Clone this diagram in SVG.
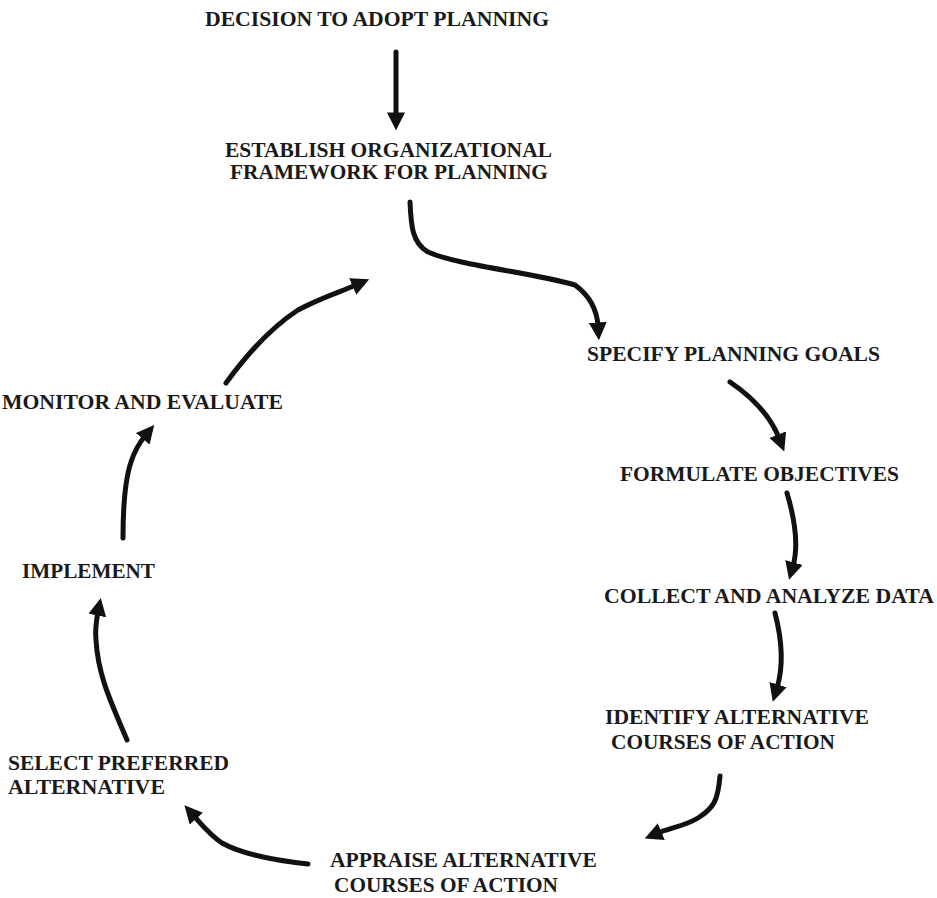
<svg xmlns="http://www.w3.org/2000/svg" width="937" height="898" viewBox="0 0 937 898">
<defs>
<style>
text{font-family:"Liberation Serif","Times New Roman",serif;font-weight:bold;font-size:21.5px;fill:#1a1a1a}
.c{fill:none;stroke:#111;stroke-width:5;stroke-linecap:round;stroke-linejoin:round}
</style>
<marker id="ah" viewBox="0 0 10 10" refX="2" refY="5" markerWidth="18" markerHeight="18" markerUnits="userSpaceOnUse" orient="auto">
<path d="M0,0 L10,5 L0,10 Z" fill="#111"/>
</marker>
</defs>
<rect width="937" height="898" fill="#fff"/>
<g id="n1"><text x="205" y="26" textLength="344" lengthAdjust="spacingAndGlyphs">DECISION TO ADOPT PLANNING</text></g>
<g id="n2"><text x="225" y="157" textLength="327" lengthAdjust="spacingAndGlyphs">ESTABLISH ORGANIZATIONAL</text><text x="230" y="179" textLength="318" lengthAdjust="spacingAndGlyphs">FRAMEWORK FOR PLANNING</text></g>
<g id="n3"><text x="587" y="361" textLength="293" lengthAdjust="spacingAndGlyphs">SPECIFY PLANNING GOALS</text></g>
<g id="n4"><text x="620" y="481" textLength="279" lengthAdjust="spacingAndGlyphs">FORMULATE OBJECTIVES</text></g>
<g id="n5"><text x="604" y="603" textLength="330" lengthAdjust="spacingAndGlyphs">COLLECT AND ANALYZE DATA</text></g>
<g id="n6"><text x="605" y="724" textLength="264" lengthAdjust="spacingAndGlyphs">IDENTIFY ALTERNATIVE</text><text x="611" y="749" textLength="224" lengthAdjust="spacingAndGlyphs">COURSES OF ACTION</text></g>
<g id="n7"><text x="330" y="867" textLength="267" lengthAdjust="spacingAndGlyphs">APPRAISE ALTERNATIVE</text><text x="334" y="892" textLength="224" lengthAdjust="spacingAndGlyphs">COURSES OF ACTION</text></g>
<g id="n8"><text x="8" y="770" textLength="221" lengthAdjust="spacingAndGlyphs">SELECT PREFERRED</text><text x="8" y="794" textLength="157" lengthAdjust="spacingAndGlyphs">ALTERNATIVE</text></g>
<g id="n9"><text x="22" y="578" textLength="133" lengthAdjust="spacingAndGlyphs">IMPLEMENT</text></g>
<g id="n10"><text x="2" y="409" textLength="281" lengthAdjust="spacingAndGlyphs">MONITOR AND EVALUATE</text></g>
<g id="connectors">
<path class="c" d="M396,52 L396,116" marker-end="url(#ah)"/>
<path class="c" d="M410,202 C411,225 412,243 428,252 C460,266 530,272 575,285 C590,296 597,310 598,326" marker-end="url(#ah)"/>
<path class="c" d="M226,383 C250,350 275,325 298,310 C320,298 340,292 356,285" marker-end="url(#ah)"/>
<path class="c" d="M730,382 C752,397 770,415 779,438" marker-end="url(#ah)"/>
<path class="c" d="M787,493 C795,520 799,545 793,566" marker-end="url(#ah)"/>
<path class="c" d="M775,613 C782,640 784,665 777,688" marker-end="url(#ah)"/>
<path class="c" d="M720,776 C718,800 714,808 698,818 C685,826 670,828 658,833" marker-end="url(#ah)"/>
<path class="c" d="M308,864 C270,860 240,853 222,843 C210,835 202,825 194,816" marker-end="url(#ah)"/>
<path class="c" d="M127,740 C110,700 98,675 96,640 C95,630 96,622 98,612" marker-end="url(#ah)"/>
<path class="c" d="M123,538 C123,505 125,480 131,462 C135,450 140,442 145,436" marker-end="url(#ah)"/>
</g>
</svg>
